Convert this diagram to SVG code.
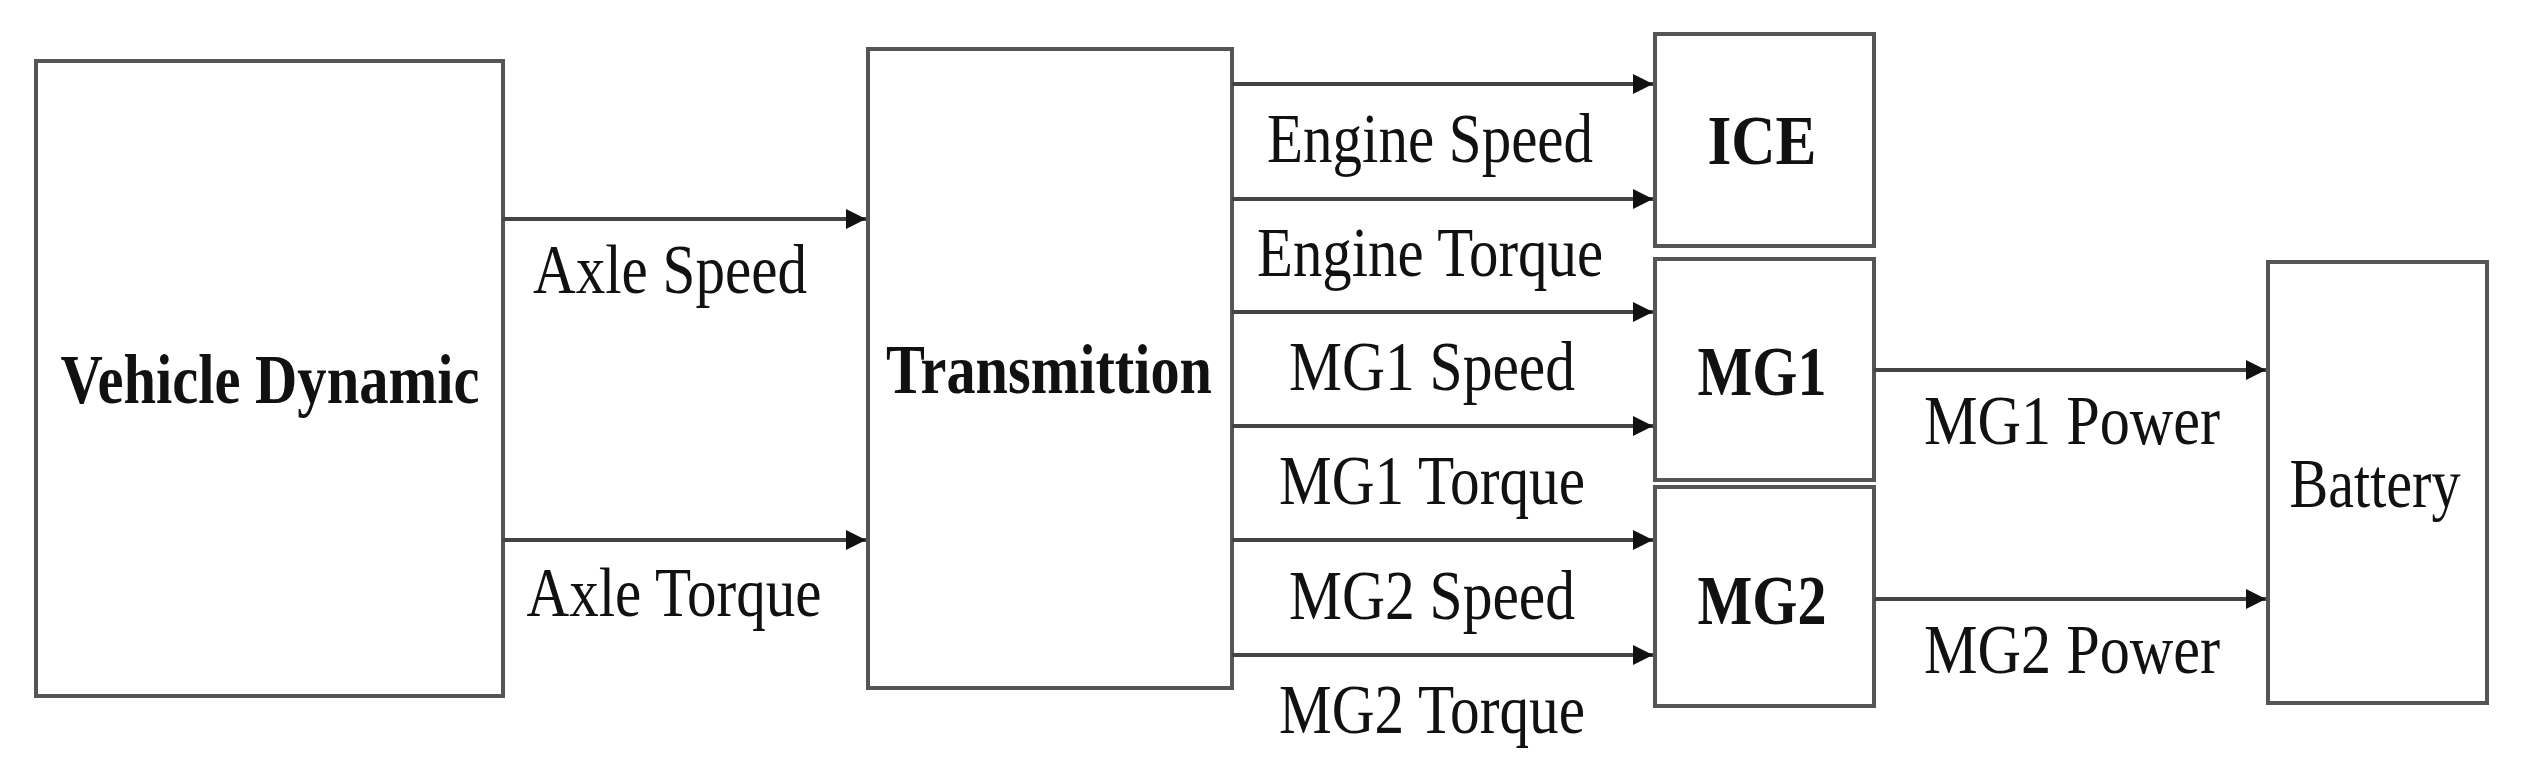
<svg xmlns="http://www.w3.org/2000/svg" width="2527" height="779" viewBox="0 0 2527 779">
<defs>
<marker id="ah" viewBox="0 0 10 10" refX="10" refY="5" markerWidth="5" markerHeight="5" markerUnits="strokeWidth" orient="auto"><path d="M0,0 L10,5 L0,10 z" fill="#111"/></marker>
</defs>
<style>
.box{fill:#fff;stroke:#555;stroke-width:4}
.t{font-family:"Liberation Serif",serif;font-size:70px;fill:#111;text-anchor:middle}
.b{font-weight:bold}
.c{stroke:#444;stroke-width:4;fill:none;marker-end:url(#ah)}
</style>
<rect width="2527" height="779" fill="#fff"/>
<g id="vehicle"><rect class="box" x="36" y="61" width="467" height="635"/><text class="t b" x="270" y="403" textLength="419" lengthAdjust="spacingAndGlyphs">Vehicle Dynamic</text></g>
<g id="transmission"><rect class="box" x="868" y="49" width="364" height="639"/><text class="t b" x="1049" y="393" textLength="326" lengthAdjust="spacingAndGlyphs">Transmittion</text></g>
<g id="ice"><rect class="box" x="1655" y="34" width="219" height="212"/><text class="t b" x="1762" y="164" textLength="109" lengthAdjust="spacingAndGlyphs">ICE</text></g>
<g id="mg1"><rect class="box" x="1655" y="259" width="219" height="221"/><text class="t b" x="1762" y="395" textLength="129" lengthAdjust="spacingAndGlyphs">MG1</text></g>
<g id="mg2"><rect class="box" x="1655" y="487" width="219" height="219"/><text class="t b" x="1762" y="624" textLength="129" lengthAdjust="spacingAndGlyphs">MG2</text></g>
<g id="battery"><rect class="box" x="2268" y="262" width="219" height="441"/><text class="t" x="2375" y="507" textLength="171" lengthAdjust="spacingAndGlyphs">Battery</text></g>
<g id="connectors">
<line class="c" x1="503" y1="219" x2="866" y2="219"/>
<line class="c" x1="503" y1="540" x2="866" y2="540"/>
<line class="c" x1="1232" y1="84" x2="1653" y2="84"/>
<line class="c" x1="1232" y1="199" x2="1653" y2="199"/>
<line class="c" x1="1232" y1="312" x2="1653" y2="312"/>
<line class="c" x1="1232" y1="426" x2="1653" y2="426"/>
<line class="c" x1="1232" y1="540" x2="1653" y2="540"/>
<line class="c" x1="1232" y1="655" x2="1653" y2="655"/>
<line class="c" x1="1874" y1="370" x2="2266" y2="370"/>
<line class="c" x1="1874" y1="599" x2="2266" y2="599"/>
</g>
<g id="labels">
<text class="t" x="670" y="293" textLength="274" lengthAdjust="spacingAndGlyphs">Axle Speed</text>
<text class="t" x="674" y="616" textLength="295" lengthAdjust="spacingAndGlyphs">Axle Torque</text>
<text class="t" x="1430" y="162" textLength="326" lengthAdjust="spacingAndGlyphs">Engine Speed</text>
<text class="t" x="1430" y="276" textLength="346" lengthAdjust="spacingAndGlyphs">Engine Torque</text>
<text class="t" x="1432" y="390" textLength="286" lengthAdjust="spacingAndGlyphs">MG1 Speed</text>
<text class="t" x="1432" y="504" textLength="306" lengthAdjust="spacingAndGlyphs">MG1 Torque</text>
<text class="t" x="1432" y="619" textLength="286" lengthAdjust="spacingAndGlyphs">MG2 Speed</text>
<text class="t" x="1432" y="733" textLength="306" lengthAdjust="spacingAndGlyphs">MG2 Torque</text>
<text class="t" x="2072" y="444" textLength="296" lengthAdjust="spacingAndGlyphs">MG1 Power</text>
<text class="t" x="2072" y="673" textLength="296" lengthAdjust="spacingAndGlyphs">MG2 Power</text>
</g>
</svg>
